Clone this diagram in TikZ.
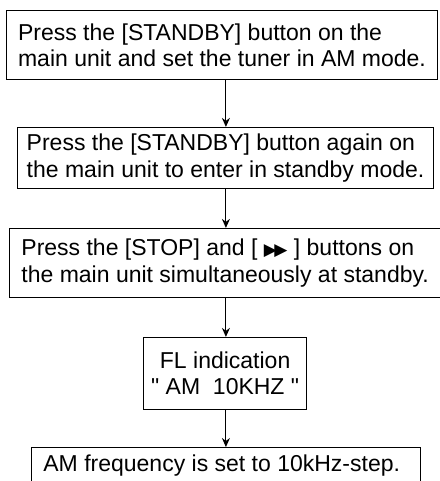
\documentclass[tikz,border=0pt]{standalone}
\usepackage{fontspec}
\setmainfont{Liberation Sans}[Ligatures=TeXOff]
\newfontfamily\symfont{DejaVu Sans}
\usetikzlibrary{arrows.meta}

\begin{document}
\begin{tikzpicture}[
  font=\fontsize{23}{26.5}\selectfont,
  stepbox/.style  = {draw, line width=1pt, rectangle, align=left, inner sep=0pt},
  flbox/.style    = {draw, line width=1pt, rectangle, align=center, inner sep=0pt},
  flow/.style     = {draw, line width=1pt, -{Stealth[length=9pt,width=8pt]}},
]

\useasboundingbox (0,0) rectangle (15.43,-16.905);

% --- the steps, top to bottom --------------------------------------------
\node[stepbox, anchor=north west, minimum width=15.15cm, minimum height=2.43cm] (s1) at (0.21,-0.35) {%
  Press the [STANDBY] button on the\\
  main unit and set the tuner in AM mode.
};

\node[stepbox, anchor=north west, minimum width=14.62cm, minimum height=2.14cm] (s2) at (0.60,-4.46) {%
  Press the [STANDBY] button again on\\
  the main unit to enter in standby mode.
};

\node[stepbox, anchor=north west, minimum width=15.15cm, minimum height=2.43cm] (s3) at (0.32,-8.01) {%
  Press the [STOP] and [ {\symfont\fontsize{17}{17}\selectfont ▶\kern-2.5pt▶} ] buttons on\\
  the main unit simultaneously at standby.
};

\node[flbox, anchor=north west, minimum width=5.73cm, minimum height=2.53cm] (fl) at (5.03,-11.84) {%
  FL indication\\
  " AM\ \ 10KHZ "
};

\node[stepbox, anchor=north west, minimum width=13.67cm, minimum height=1.3cm] (res) at (1.09,-15.71) {%
  AM frequency is set to 10kHz-step.
};

% --- arrows on one vertical axis -----------------------------------------
\coordinate (axis) at (7.94,0);
\draw[flow] (s1.south -| axis) -- (s2.north -| axis);
\draw[flow] (s2.south -| axis) -- (s3.north -| axis);
\draw[flow] (s3.south -| axis) -- (fl.north -| axis);
\draw[flow] (fl.south -| axis) -- (res.north -| axis);

\end{tikzpicture}
\end{document}
